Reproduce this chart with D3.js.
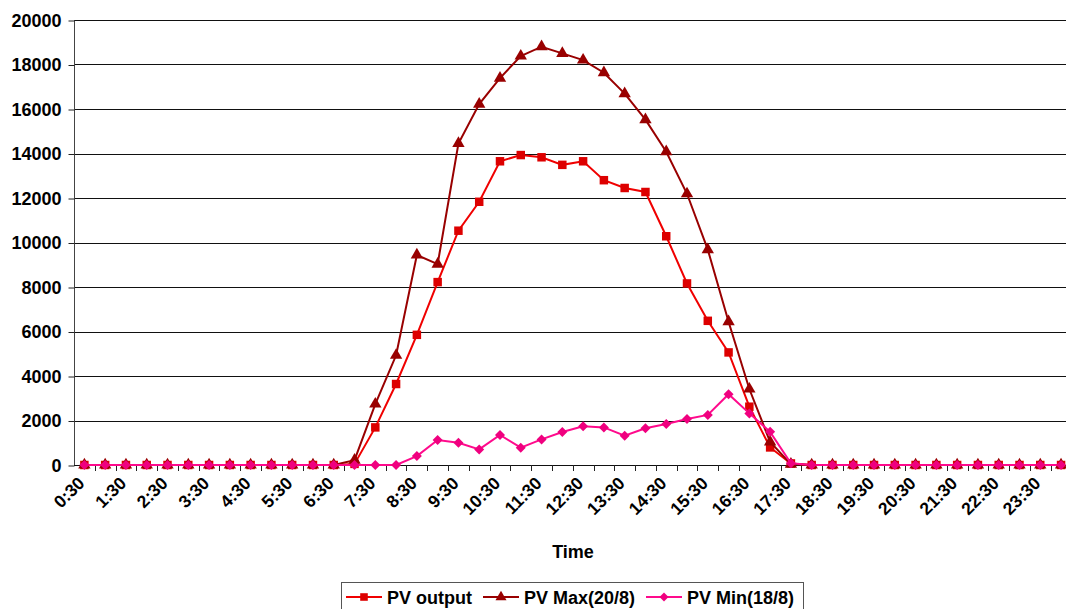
<!DOCTYPE html>
<html>
<head>
<meta charset="utf-8">
<script src="https://cdn.jsdelivr.net/npm/d3@7"></script>
<style>
  body { margin: 0; background: #fff; }
  svg { display: block; font-family: "Liberation Sans", Arial, sans-serif; font-weight: bold; }
</style>
</head>
<body>
<div id="chart"></div>
<script>
// categories (every half hour)
const times = ['0:30','1:00','1:30','2:00','2:30','3:00','3:30','4:00','4:30','5:00','5:30','6:00',
  '6:30','7:00','7:30','8:00','8:30','9:00','9:30','10:00','10:30','11:00','11:30','12:00',
  '12:30','13:00','13:30','14:00','14:30','15:00','15:30','16:00','16:30','17:00','17:30','18:00',
  '18:30','19:00','19:30','20:00','20:30','21:00','21:30','22:00','22:30','23:00','23:30','24:00'];

const pvOutput = [0,0,0,0,0,0,0,0,0,0,0,0,
  0,50,1690,3640,5850,8220,10530,11830,13650,13930,13830,13490,
  13650,12800,12450,12270,10280,8160,6480,5060,2620,790,70,0,
  0,0,0,0,0,0,0,0,0,0,0,0];

const pvMax = [0,0,0,0,0,0,0,0,0,0,0,0,
  0,220,2740,4930,9440,9030,14450,16220,17390,18380,18800,18500,
  18200,17630,16690,15520,14080,12190,9680,6440,3415,1040,40,0,
  0,0,0,0,0,0,0,0,0,0,0,0];

const pvMin = [0,0,0,0,0,0,0,0,0,0,0,0,
  0,0,0,0,400,1120,1000,700,1350,780,1150,1480,
  1740,1690,1320,1650,1840,2070,2250,3180,2320,1490,80,0,
  0,0,0,0,0,0,0,0,0,0,0,0];

const yTicks = [0, 2000, 4000, 6000, 8000, 10000, 12000, 14000, 16000, 18000, 20000];

const seriesNames = ['PV output', 'PV Max(20/8)', 'PV Min(18/8)'];

// square diamond (equal width and height)
const symbolRhomb = {
    draw(context, size) {
        const r = Math.sqrt(size / 2);
        context.moveTo(0, -r);
        context.lineTo(r, 0);
        context.lineTo(0, r);
        context.lineTo(-r, 0);
        context.closePath();
    }
};

class LineChart {

    constructor(_config) {
        this.config = {
            parentElement: _config.parentElement,
            containerWidth: _config.containerWidth || 1066,
            containerHeight: _config.containerHeight || 609,
            margin: _config.margin || {top: 20, left: 74}
        };
        this.initVis();
    }

    initVis() {
        let vis = this;

        vis.height = 445;
        vis.step = 20.78;
        vis.width = vis.step * times.length;

        vis.svg = d3.select(vis.config.parentElement)
            .append('svg')
            .attr('width', vis.config.containerWidth)
            .attr('height', vis.config.containerHeight);

        vis.chart = vis.svg.append('g')
            .attr('transform', `translate(${vis.config.margin.left},${vis.config.margin.top})`);

        vis.x = d3.scaleBand()
            .domain(times)
            .range([0, vis.width])
            .padding(0);

        vis.y = d3.scaleLinear()
            .domain([0, 20000])
            .range([vis.height, 0]);

        vis.renderVis();
    }

    renderVis() {
        let vis = this;
        const cx = t => vis.x(t) + vis.x.bandwidth() / 2;

        // horizontal gridlines
        vis.chart.append('g')
            .selectAll('line')
            .data(yTicks)
            .join('line')
            .attr('x1', 0)
            .attr('x2', vis.width)
            .attr('y1', d => Math.round(vis.y(d)) + 0.5)
            .attr('y2', d => Math.round(vis.y(d)) + 0.5)
            .attr('stroke', '#111')
            .attr('stroke-width', 1);

        // y axis
        const yAxis = d3.axisLeft(vis.y)
            .tickValues(yTicks)
            .tickSize(6)
            .tickPadding(7)
            .tickFormat(d3.format('d'));
        const yG = vis.chart.append('g').attr('transform', 'translate(0.5,0.5)').call(yAxis);
        yG.select('.domain').attr('stroke', '#444').attr('d', `M0,0V${vis.height}`);
        yG.selectAll('.tick line').attr('stroke', '#222');
        yG.selectAll('.tick text')
            .attr('font-size', 18)
            .attr('font-weight', 'bold')
            .attr('font-family', '"Liberation Sans", Arial, sans-serif')
            .attr('fill', '#000');

        // x axis: ticks on category boundaries, labels every second category
        const xG = vis.chart.append('g').attr('transform', `translate(0,${vis.height})`);
        xG.append('line')
            .attr('x1', 0).attr('x2', vis.width)
            .attr('y1', 0.5).attr('y2', 0.5)
            .attr('stroke', '#111');
        xG.selectAll('.xtick')
            .data(times.slice(1))
            .join('line')
            .attr('class', 'xtick')
            .attr('x1', d => Math.round(vis.x(d)) + 0.5)
            .attr('x2', d => Math.round(vis.x(d)) + 0.5)
            .attr('y1', 0)
            .attr('y2', 6)
            .attr('stroke', '#222');
        xG.selectAll('.xlabel')
            .data(times.filter((d, i) => i % 2 === 0))
            .join('text')
            .attr('class', 'xlabel')
            .attr('transform', d => `translate(${cx(d) - 3},${15}) rotate(-45)`)
            .attr('text-anchor', 'end')
            .attr('dy', '0.35em')
            .attr('font-size', 17.5)
            .text(d => d);

        // axis title
        vis.svg.append('text')
            .attr('x', 573)
            .attr('y', 558)
            .attr('text-anchor', 'middle')
            .attr('font-size', 18)
            .text('Time');

        const series = [
            {name: seriesNames[0], values: pvOutput, line: '#F00000', fill: '#DD0000', shape: d3.symbolSquare, size: 72},
            {name: seriesNames[1], values: pvMax, line: '#990000', fill: '#990000', shape: d3.symbolTriangle, size: 66},
            {name: seriesNames[2], values: pvMin, line: '#FF0A8C', fill: '#F0007F', shape: symbolRhomb, size: 50}
        ];

        const line = d3.line()
            .x((d, i) => cx(times[i]))
            .y(d => vis.y(d));

        series.forEach(s => {
            const g = vis.chart.append('g');
            g.append('path')
                .attr('d', line(s.values))
                .attr('fill', 'none')
                .attr('stroke', s.line)
                .attr('stroke-width', 2);
            g.selectAll('path.mark')
                .data(s.values)
                .join('path')
                .attr('class', 'mark')
                .attr('transform', (d, i) => `translate(${cx(times[i])},${vis.y(d)})`)
                .attr('d', d3.symbol().type(s.shape).size(s.size))
                .attr('fill', s.fill);
        });

        // legend
        const legend = vis.svg.append('g');
        legend.append('rect')
            .attr('x', 341.5).attr('y', 582.5)
            .attr('width', 462).attr('height', 30)
            .attr('fill', '#fff')
            .attr('stroke', '#555');
        const legendX = [346, 483, 646];
        series.forEach((s, i) => {
            const lg = legend.append('g').attr('transform', `translate(${legendX[i]},597)`);
            lg.append('line')
                .attr('x1', 0).attr('x2', 36)
                .attr('stroke', s.line).attr('stroke-width', 2);
            lg.append('path')
                .attr('transform', 'translate(18,0)')
                .attr('d', d3.symbol().type(s.shape).size(s.size * 0.8))
                .attr('fill', s.fill);
            lg.append('text')
                .attr('x', 41)
                .attr('y', 6.5)
                .attr('font-size', 18)
                .text(s.name);
        });
    }
}

new LineChart({parentElement: '#chart'});
</script>
</body>
</html>
